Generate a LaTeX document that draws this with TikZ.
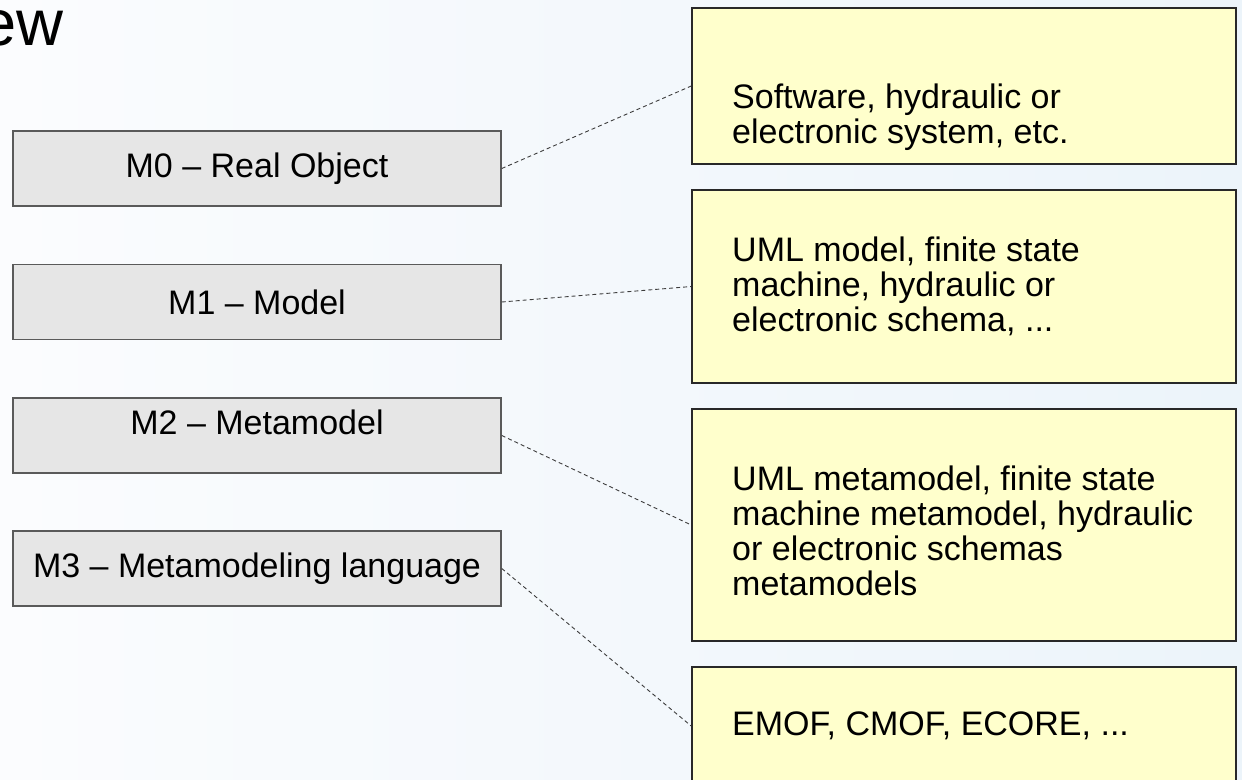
\documentclass[tikz,border=0pt]{standalone}
\usepackage{fontspec}
\setmainfont{Liberation Sans}
\usetikzlibrary{positioning}
\definecolor{bgleft}{RGB}{251,252,254}
\definecolor{bgright}{RGB}{236,244,250}
\definecolor{levelfill}{RGB}{230,230,230}
\definecolor{levelline}{RGB}{90,90,90}
\definecolor{notefill}{RGB}{255,255,204}
\definecolor{noteline}{RGB}{40,40,40}
\definecolor{linkline}{RGB}{60,60,60}
\tikzset{
  x=1pt, y=-1pt,
  level/.style={draw=levelline, fill=levelfill, line width=1.5pt,
    minimum width=488pt, minimum height=75pt, inner sep=0pt,
    font=\fontsize{34}{38}\selectfont},
  note/.style={draw=noteline, fill=notefill, line width=1.5pt,
    minimum width=544pt, inner sep=0pt},
  % multi-line nodes sit on the baseline of their last line
  notetext/.style={anchor=base west, inner sep=0pt, align=left,
    font=\fontsize{34}{35}\selectfont},
  link/.style={draw=linkline, line width=0.9pt, dash pattern=on 4pt off 3pt}
}
\begin{document}
\begin{tikzpicture}
  % page and soft background
  \useasboundingbox (0,0) rectangle (1242,779);
  \shade[left color=bgleft, right color=bgright] (0,0) rectangle (1242,779);

  % title remnant at the top left corner
  \node[anchor=base east, inner sep=0pt, font=\fontsize{65}{70}\selectfont]
    (title) at (64,45) {ew};

  % metamodel levels
  \node[level] (m0) at (257,168.5) {M0 – Real Object};
  \node[level] (m1) at (257,302)   {M1 – Model};
  \node[level, text depth=26pt] (m2) at (257,435.5) {M2 – Metamodel};
  \node[level] (m3) at (257,568.5) {M3 – Metamodeling language};

  % example notes
  \node[note, minimum height=156pt] (n0) at (964,86)    {};
  \node[note, minimum height=193pt] (n1) at (964,286.5) {};
  \node[note, minimum height=232pt] (n2) at (964,525)   {};
  \node[note, minimum height=118pt] (n3) at (964,726)   {};

  \node[notetext] (t0) at (732,143)
    {Software, hydraulic or\\electronic system, etc.};
  \node[notetext] (t1) at (732,331)
    {UML model, finite state\\machine, hydraulic or\\electronic schema, ...};
  \node[notetext] (t2) at (732,595)
    {UML metamodel, finite state\\machine metamodel, hydraulic\\or electronic schemas\\metamodels};
  \node[notetext] (t3) at (732,735)
    {EMOF, CMOF, ECORE, ...};

  % dashed links from each level to its examples
  \draw[link] (m0.east) -- (n0.west);
  \draw[link] (m1.east) -- (n1.west);
  \draw[link] (m2.east) -- (n2.west);
  \draw[link] (m3.east) -- (n3.west);
\end{tikzpicture}
\end{document}
